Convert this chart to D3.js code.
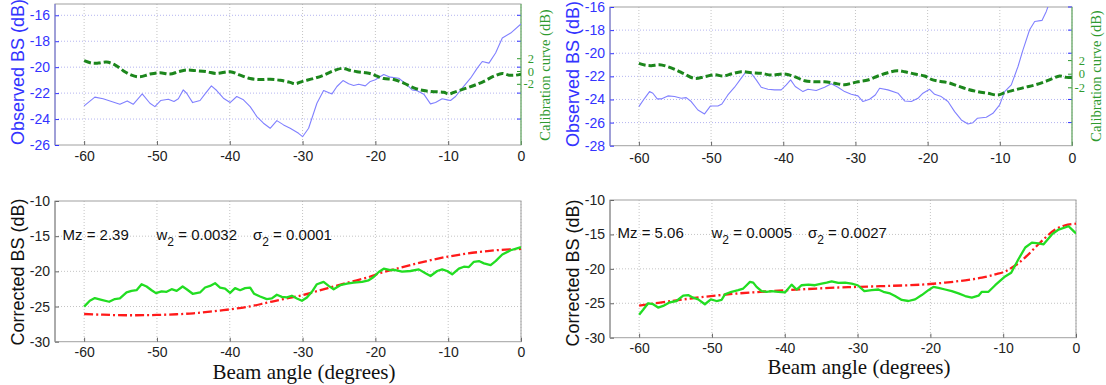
<!DOCTYPE html>
<html><head><meta charset="utf-8">
<script src="https://cdn.jsdelivr.net/npm/d3@7"></script>
<style>
body{margin:0;background:#fff;}
svg{display:block;}
text{font-family:"Liberation Sans",Arial,sans-serif;}
.serif{font-family:"Liberation Serif","Times New Roman",serif;}
</style></head>
<body>
<svg id="c" width="1106" height="385"></svg>
<script>
// ---------- DATA ----------
const xTicks = [-60,-50,-40,-30,-20,-10,0];
const calTicks = [-2,0,2];
const ticksTL = [-26,-24,-22,-20,-18,-16];
const ticksTR = [-28,-26,-24,-22,-20,-18,-16];
const ticksBottom = [-30,-25,-20,-15,-10];

// Top-left: observed BS (dB)
const angTLobs = [-60,-58.53,-57.39,-56.24,-55.09,-54.08,-53.26,-52.02,-50.96,-50.28,-49.5,-48.44,-47.66,-47.06,-46.38,-45.92,-45.09,-44.08,-43.39,-42.52,-41.79,-40.87,-39.95,-39.04,-38.12,-37.2,-36.28,-35.37,-34.45,-33.53,-32.61,-31.7,-30.55,-30,-29.17,-28.03,-27.11,-25.96,-25.28,-24.45,-23.67,-22.98,-22.29,-21.38,-20.69,-20,-19.31,-18.85,-17.94,-16.79,-15.64,-14.95,-14.27,-13.35,-12.43,-11.74,-10.83,-10.14,-9.68,-8.99,-8.07,-6.93,-6.01,-5.32,-4.4,-3.49,-2.57,-1.42,0];
const obsTL = [-22.98,-22.31,-22.44,-22.65,-22.86,-22.6,-22.86,-22.06,-22.78,-23.04,-22.57,-22.47,-22.65,-22.44,-21.75,-22.01,-22.73,-22.57,-22.06,-21.44,-21.8,-22.39,-22.73,-22.26,-22.52,-23.04,-23.81,-24.32,-24.71,-24.12,-24.45,-24.71,-25.1,-25.36,-24.71,-22.78,-21.8,-22.06,-21.49,-21.03,-21.28,-21.41,-21.31,-21.44,-21.1,-20.97,-20.72,-20.56,-20.77,-20.85,-21.36,-21.75,-21.82,-22.08,-22.83,-22.73,-22.44,-22.52,-22.57,-22.26,-21.62,-20.85,-20.07,-19.56,-19.69,-18.91,-17.75,-17.37,-16.67];
// Top-left: calibration curve (dB)
const angTLcal = [-60,-58.99,-58.07,-56.93,-55.78,-54.63,-53.49,-52.34,-50.96,-49.59,-48.21,-47.06,-45.92,-44.54,-43.17,-41.79,-39.95,-38.58,-37.2,-35.83,-34.45,-33.07,-31.7,-31.01,-30,-28.49,-27.11,-25.73,-24.45,-23.67,-22.52,-21.38,-20.46,-19.77,-18.85,-17.48,-16.1,-14.72,-13.35,-11.97,-10.6,-9.91,-9.22,-7.84,-6.47,-5.09,-3.72,-2.57,-1.65,-0.73,0];
const calTL = [1.61,1.24,1.24,1.4,0.97,0.05,-0.65,-0.91,-0.48,-0.27,-0.48,-0.11,0.16,0.05,-0.11,-0.38,-0.11,-0.65,-1.18,-1.34,-1.29,-1.45,-1.77,-1.99,-1.61,-1.18,-0.65,0.05,0.43,0.16,-0.11,-0.27,-0.48,-0.81,-1.18,-1.34,-1.88,-2.63,-3.06,-3.23,-3.33,-3.6,-3.33,-2.8,-2.26,-1.61,-0.81,-0.38,-0.65,-0.65,-0.48];

// Top-right: observed BS (dB)
const angTRobs = [-60,-59.21,-58.52,-58.06,-57.46,-56.91,-55.98,-55.06,-54.13,-53.44,-52.75,-51.82,-50.9,-50.07,-49.05,-48.5,-47.67,-46.74,-45.82,-45.13,-44.43,-43.74,-43.05,-42.12,-41.2,-40.28,-39.58,-38.98,-38.34,-37.27,-36.58,-35.43,-34.27,-33.35,-32.42,-31.5,-30.58,-29.65,-28.96,-28.04,-27.25,-26.65,-25.5,-24.11,-23.19,-22.26,-21.34,-20.65,-19.72,-19.03,-18.11,-17.18,-16.26,-15.33,-14.41,-13.72,-13.12,-11.87,-10.95,-10.02,-9.33,-8.41,-7.48,-6.79,-5.87,-5.17,-4.16,-3.56,-3.23,-2.2,0];
const obsTR = [-24.62,-23.9,-23.32,-23.46,-23.95,-23.95,-23.69,-23.75,-23.9,-23.84,-24.18,-24.91,-25.25,-24.56,-24.56,-24.39,-23.61,-22.94,-22.16,-21.58,-21.73,-22.31,-22.94,-23.12,-23.17,-23.17,-22.74,-22.31,-22.88,-23.32,-23.12,-23.23,-22.94,-22.65,-22.94,-23.32,-23.55,-23.69,-24.18,-23.98,-23.61,-23.03,-23.17,-23.46,-24.13,-24.18,-23.9,-23.46,-23.12,-23.55,-23.75,-24.18,-25.05,-25.77,-26.12,-26.01,-25.63,-25.54,-25.2,-24.47,-23.32,-22.74,-21.15,-19.71,-17.97,-17.25,-17.16,-16.38,-15.8,-14.6,-12.8];
// Top-right: calibration curve (dB)
const angTRcal = [-60,-59.21,-58.29,-57.14,-55.98,-54.83,-53.67,-52.29,-50.9,-49.52,-48.36,-47.21,-45.82,-44.43,-43.05,-41.66,-39.82,-38.43,-37.04,-35.66,-34.27,-32.89,-31.5,-30.58,-29.65,-28.27,-26.88,-25.5,-24.2,-23.19,-21.8,-20.42,-19.49,-18.57,-17.18,-15.8,-14.41,-13.03,-11.64,-10.25,-9.33,-7.95,-6.56,-5.17,-3.79,-2.63,-1.71,-0.78,0];
const calTR = [1.52,1.27,1.18,1.32,1.03,0.54,-0.05,-0.69,-0.44,-0.15,-0.34,-0.05,0.29,0.15,0.05,-0.2,-0.05,-0.44,-1.03,-1.18,-1.18,-1.42,-1.62,-1.42,-1.18,-0.93,-0.34,0.15,0.44,0.29,-0.05,-0.34,-0.83,-1.08,-1.32,-1.81,-2.3,-2.65,-2.89,-3.14,-2.79,-2.4,-2.01,-1.67,-1.18,-0.69,-0.34,-0.54,-0.54];

// Bottom-left: corrected BS (dB) and model
const angBLcor = [-60,-59.22,-58.53,-57.61,-56.56,-55.78,-55.09,-54.17,-53.49,-52.8,-52.11,-51.42,-50.73,-50.14,-49.36,-48.67,-47.98,-47.29,-46.47,-45.92,-45.09,-44.08,-43.39,-42.71,-42.02,-41.33,-40.64,-39.95,-39.27,-38.58,-37.89,-37.2,-36.65,-35.83,-34.91,-34.22,-33.53,-32.84,-32.16,-31.47,-30.78,-30.09,-29.4,-28.72,-28.03,-27.11,-26.42,-25.73,-24.82,-23.9,-22.98,-21.83,-20.92,-20.23,-19.54,-18.85,-17.94,-17.25,-16.33,-15.18,-14.04,-13.12,-12.43,-11.51,-10.83,-10.14,-9.45,-8.53,-7.84,-7.16,-6.47,-5.78,-5.09,-4.17,-3.49,-2.57,-1.42,0];
const corBL = [-25.02,-24.18,-23.8,-24.04,-24.32,-23.94,-23.85,-23,-22.77,-22.68,-21.83,-22.16,-22.68,-23.1,-22.86,-22.91,-22.54,-22.77,-22.16,-22.54,-23.19,-23,-22.3,-22.07,-21.69,-22.3,-22.44,-23.05,-22.39,-22.68,-22.39,-22.3,-23.19,-23.57,-23.94,-23.85,-23.33,-23.62,-23.71,-23.47,-23.85,-24.18,-23.71,-22.91,-21.83,-21.5,-22.07,-22.54,-21.97,-21.74,-21.6,-21.5,-21.27,-20.8,-20.09,-19.62,-19.81,-19.81,-20.05,-19.95,-19.72,-20.28,-20.66,-19.95,-19.72,-19.95,-20.42,-19.62,-19.34,-19.39,-18.64,-18.54,-18.87,-19.11,-18.54,-17.61,-17,-16.57];
const angBLmod = [-60,-57.84,-55.55,-52.8,-50.05,-47.29,-45,-42.71,-39.95,-37.2,-34.91,-32.61,-30,-28.03,-25.73,-23.44,-21.15,-18.85,-16.56,-14.27,-11.97,-9.68,-7.39,-5.09,-2.8,0];
const modBL = [-26.06,-26.15,-26.22,-26.24,-26.2,-26.1,-25.96,-25.73,-25.4,-24.98,-24.46,-23.94,-23.38,-22.82,-22.16,-21.5,-20.89,-20.09,-19.48,-18.87,-18.31,-17.84,-17.46,-17.18,-16.95,-16.81];

// Bottom-right: corrected BS (dB) and model
const angBRcor = [-60,-59.45,-58.76,-58.08,-57.39,-56.7,-55.78,-54.87,-53.95,-53.26,-52.58,-51.89,-50.97,-50.15,-49.37,-48.68,-48.22,-47.31,-46.39,-45.7,-45.24,-44.78,-44.33,-43.87,-43.18,-42.49,-41.81,-40.89,-39.97,-39.06,-38.37,-37.68,-36.76,-35.85,-34.93,-34.24,-33.56,-32.64,-31.72,-30.81,-29.98,-29.07,-28.06,-27.14,-26.45,-25.54,-24.85,-23.93,-23.02,-22.1,-21.18,-20.27,-19.58,-18.89,-17.97,-17.06,-16.14,-15.22,-14.31,-13.39,-12.93,-12.02,-11.1,-9.73,-8.9,-7.89,-6.97,-6.06,-5.14,-4.45,-3.31,-2.39,-1.02,-0.33,0];
const corBR = [-26.67,-25.95,-25,-25.14,-25.62,-25.38,-24.86,-24.67,-23.9,-23.81,-24.19,-24.43,-25.14,-24.43,-24.67,-24.52,-23.71,-23.33,-23.1,-22.86,-22.38,-21.9,-22,-22.62,-23.24,-23.33,-23.24,-23.33,-23.43,-22.29,-23,-22.38,-22.29,-22.38,-22.14,-22,-21.81,-22.05,-22,-22.14,-22.38,-23.24,-23.1,-23,-23.33,-23.57,-23.95,-24.52,-24.67,-24.43,-23.81,-23.1,-22.62,-22.76,-23,-23.24,-23.57,-23.95,-24.19,-23.9,-23.33,-23.33,-22.38,-21.1,-20.57,-18.57,-16.9,-16.19,-16.29,-16.43,-15,-14.29,-13.81,-14.52,-14.86];
const angBRmod = [-60,-55.55,-50.97,-46.39,-41.81,-37.22,-32.64,-29.98,-25.77,-21.18,-17.97,-15.22,-12.93,-11.1,-9.73,-8.35,-6.97,-5.6,-4.22,-2.85,-1.48,0];
const modBR = [-25.33,-24.67,-24.05,-23.57,-23.24,-22.95,-22.71,-22.62,-22.48,-22.29,-22,-21.67,-21.29,-20.81,-20.38,-19.52,-18.33,-16.9,-15.48,-14.29,-13.67,-13.43];

const annBL = {mz:"2.39", w2:"0.0032", s2:"0.0001"};
const annBR = {mz:"5.06", w2:"0.0005", s2:"0.0027"};

// ---------- DRAW ----------
const svg = d3.select("#c");
const xDomain = [-64, 0];
const BLUE = "#3333ff", GREENAX = "#2f9a2f";
const fmt = d => String(d);   // plain hyphen-minus, as in the reference
let clipId = 0;

function zip(a, b){ return a.map((v,i)=>[v,b[i]]); }

function panel(o){
  const x = d3.scaleLinear().domain(xDomain).range([o.x0, o.x1]);
  const y = d3.scaleLinear().domain(o.yDomain).range([o.y1, o.y0]);
  const g = svg.append("g");
  const cid = "clip" + (clipId++);
  svg.append("clipPath").attr("id", cid).append("rect")
    .attr("x", o.x0).attr("y", o.y0).attr("width", o.x1-o.x0).attr("height", o.y1-o.y0);

  // grid
  g.selectAll(".vg").data(xTicks).join("line")
    .attr("x1", d=>x(d)).attr("x2", d=>x(d)).attr("y1", o.y0).attr("y2", o.y1)
    .attr("stroke", "#c4c4c4").attr("stroke-width", 1).attr("stroke-dasharray", "1,2");
  g.selectAll(".hg").data(o.yTicks.filter(t=>t!==o.yDomain[0] && t!==o.yDomain[1])).join("line")
    .attr("x1", o.x0).attr("x2", o.x1).attr("y1", d=>y(d)).attr("y2", d=>y(d))
    .attr("stroke", o.top ? "#b4b4f0" : "#c4c4c4").attr("stroke-width", 1).attr("stroke-dasharray", "1,2");

  // box
  g.append("rect").attr("x", o.x0).attr("y", o.y0).attr("width", o.x1-o.x0).attr("height", o.y1-o.y0)
    .attr("fill", "none").attr("stroke", "#a0a0a0").attr("stroke-width", 1);

  // axes
  const ax = g.append("g").attr("transform", `translate(0,${o.y1})`)
    .call(d3.axisBottom(x).tickValues(xTicks).tickSize(-4).tickPadding(o.xPad).tickFormat(fmt));
  ax.select(".domain").remove();
  ax.selectAll("line").attr("stroke", "#666");
  ax.selectAll("text").attr("font-size", 14).attr("fill", "#222")
    .style("font-family", "'Liberation Sans',Arial,sans-serif");

  const ay = g.append("g").attr("transform", `translate(${o.x0},0)`)
    .call(d3.axisLeft(y).tickValues(o.yTicks).tickSize(-4).tickPadding(5).tickFormat(fmt));
  ay.select(".domain").remove();
  ay.selectAll("line").attr("stroke", o.top ? BLUE : "#666");
  ay.selectAll("text").attr("font-size", 14).attr("fill", o.top ? BLUE : "#222")
    .style("font-family", "'Liberation Sans',Arial,sans-serif");
  g.append("line").attr("x1", o.x0).attr("x2", o.x0).attr("y1", o.y0).attr("y2", o.y1)
    .attr("stroke", o.top ? "#7070e0" : "#888");

  // y label
  g.append("text").attr("transform", `translate(${o.labX},${o.labY}) rotate(-90)`)
    .attr("text-anchor", "middle").attr("dominant-baseline", "central")
    .attr("font-size", 18).attr("fill", o.top ? BLUE : "#111").text(o.yLabel);

  return {x, y, g, cid};
}

function line(p, xs, ys, yScale, style, curve){
  const gen = d3.line().x(d=>p.x(d[0])).y(d=>yScale(d[1])).curve(curve || d3.curveLinear);
  const path = p.g.append("path").datum(zip(xs, ys)).attr("d", gen)
    .attr("clip-path", `url(#${p.cid})`)
    .attr("fill", "none").attr("stroke", style.c).attr("stroke-width", style.w)
    .attr("stroke-linejoin", "round");
  if (style.dash) path.attr("stroke-dasharray", style.dash);
  return path;
}

function rightAxis(p, o){
  const yR = d3.scaleLinear().domain(o.calDomain).range([o.y1, o.y0]);
  // mirrored left ticks on right side
  p.g.selectAll(".mt").data(o.yTicks.filter(t=>t!==o.yDomain[0])).join("line")
    .attr("x1", o.x1-4).attr("x2", o.x1).attr("y1", d=>p.y(d)).attr("y2", d=>p.y(d))
    .attr("stroke", BLUE).attr("stroke-width", 1);
  const ar = p.g.append("g").attr("transform", `translate(${o.x1},0)`)
    .call(d3.axisRight(yR).tickValues(calTicks).tickSize(-4).tickPadding(0).tickFormat(fmt));
  ar.select(".domain").remove();
  ar.selectAll("line").attr("stroke", GREENAX);
  ar.selectAll("text").attr("x", 13).attr("text-anchor", "end").attr("font-size", 12.5)
    .attr("fill", GREENAX).attr("class", "serif");
  p.g.append("line").attr("x1", o.x1).attr("x2", o.x1).attr("y1", o.y0).attr("y2", o.y1)
    .attr("stroke", "#66bb66");
  p.g.append("text").attr("class", "serif")
    .attr("transform", `translate(${o.calLabX},${o.calLabY}) rotate(-90)`)
    .attr("text-anchor", "middle").attr("dominant-baseline", "central")
    .attr("font-size", 14.5).attr("fill", GREENAX).text("Calibration curve (dB)");
  return yR;
}

function annotate(p, a, x0, xw, xs, yb){
  const t = p.g.append("g").attr("font-size", 15).attr("fill", "#111");
  t.append("text").attr("x", x0).attr("y", yb).text("Mz = " + a.mz);
  const w = t.append("text").attr("x", xw).attr("y", yb);
  w.append("tspan").text("w");
  w.append("tspan").attr("dy", 6).attr("font-size", 12).text("2");
  w.append("tspan").attr("dy", -6).text(" = " + a.w2);
  const s = t.append("text").attr("x", xs).attr("y", yb);
  s.append("tspan").text("σ");
  s.append("tspan").attr("dy", 6).attr("font-size", 12).text("2");
  s.append("tspan").attr("dy", -6).text(" = " + a.s2);
}

const obsStyle = {c:"#8080ff", w:1.1};
const calStyle = {c:"#1c861c", w:3, dash:"7,3"};
const corStyle = {c:"#22dd22", w:2.3};
const modStyle = {c:"#ff1a1a", w:2.3, dash:"9,3,2,3"};

// Top-left
const oTL = {x0:55, x1:521, y0:4, y1:145, yDomain:[-26,-15.13], yTicks:ticksTL, top:true, xPad:6,
  labX:17.5, labY:72, yLabel:"Observed BS (dB)", calDomain:[-11.56,10.47], calLabX:545, calLabY:75};
const pTL = panel(oTL);
const rTL = rightAxis(pTL, oTL);
line(pTL, angTLobs, obsTL, pTL.y, obsStyle);
line(pTL, angTLcal, calTL, rTL, calStyle, d3.curveCatmullRom);

// Top-right
const oTR = {x0:610, x1:1072, y0:7, y1:145.7, yDomain:[-28,-16], yTicks:ticksTR, top:true, xPad:7,
  labX:573, labY:74, yLabel:"Observed BS (dB)", calDomain:[-10.59,9.81], calLabX:1096, calLabY:76};
const pTR = panel(oTR);
const rTR = rightAxis(pTR, oTR);
line(pTR, angTRobs, obsTR, pTR.y, obsStyle);
line(pTR, angTRcal, calTR, rTR, calStyle, d3.curveCatmullRom);

// Bottom-left
const oBL = {x0:55, x1:521, y0:201, y1:341.7, yDomain:[-30,-10], yTicks:ticksBottom, top:false, xPad:5,
  labX:17.5, labY:272, yLabel:"Corrected BS (dB)"};
const pBL = panel(oBL);
line(pBL, angBLmod, modBL, pBL.y, modStyle, d3.curveCatmullRom);
line(pBL, angBLcor, corBL, pBL.y, corStyle);
annotate(pBL, annBL, 62.5, 156.5, 253, 240);
svg.append("text").attr("class", "serif").attr("x", 304).attr("y", 378.5).attr("text-anchor", "middle")
  .attr("font-size", 21).attr("fill", "#111").text("Beam angle (degrees)");

// Bottom-right
const oBR = {x0:610, x1:1076, y0:200, y1:337.7, yDomain:[-30,-10], yTicks:ticksBottom, top:false, xPad:5,
  labX:573, labY:273, yLabel:"Corrected BS (dB)"};
const pBR = panel(oBR);
line(pBR, angBRmod, modBR, pBR.y, modStyle, d3.curveCatmullRom);
line(pBR, angBRcor, corBR, pBR.y, corStyle);
annotate(pBR, annBR, 617.5, 711.5, 808, 238);
svg.append("text").attr("class", "serif").attr("x", 859).attr("y", 374).attr("text-anchor", "middle")
  .attr("font-size", 21).attr("fill", "#111").text("Beam angle (degrees)");
</script>
</body></html>
